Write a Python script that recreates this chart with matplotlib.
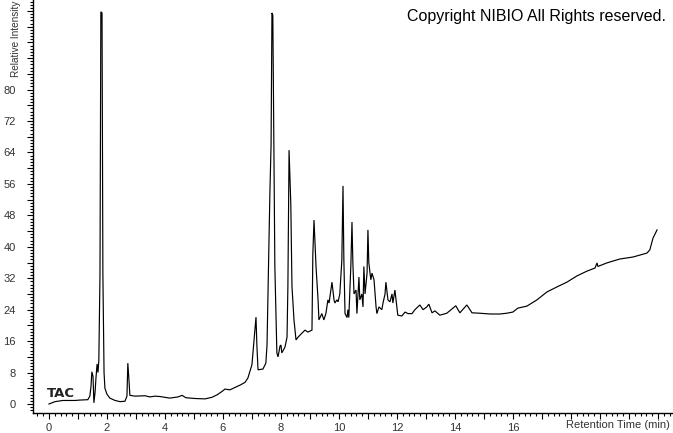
import matplotlib
matplotlib.use("Agg")
import matplotlib.pyplot as plt
from matplotlib.ticker import MultipleLocator, FuncFormatter

# Retention time (min) and relative intensity
time_min = [0.00, 0.21, 0.48, 0.90, 1.07, 1.34, 1.41, 1.45, 1.48, 1.52, 1.55, 1.59, 1.62, 1.66, 1.69, 1.72,
            1.76, 1.79, 1.83, 1.86, 1.90, 1.93, 2.00, 2.10, 2.28, 2.45, 2.62, 2.69, 2.72, 2.76, 2.79, 2.97,
            3.31, 3.48, 3.66, 3.83, 4.17, 4.45, 4.59, 4.72, 5.03, 5.38, 5.62, 5.79, 5.97, 6.07, 6.24, 6.41,
            6.59, 6.76, 6.86, 7.00, 7.07, 7.14, 7.17, 7.21, 7.38, 7.48, 7.52, 7.55, 7.62, 7.66, 7.69, 7.72,
            7.76, 7.79, 7.86, 7.90, 7.97, 8.00, 8.03, 8.14, 8.21, 8.24, 8.28, 8.31, 8.34, 8.38, 8.45, 8.52,
            8.59, 8.72, 8.83, 8.93, 9.07, 9.10, 9.14, 9.21, 9.28, 9.31, 9.41, 9.48, 9.55, 9.62, 9.66, 9.72,
            9.76, 9.83, 9.86, 9.93, 9.97, 10.03, 10.10, 10.14, 10.17, 10.21, 10.28, 10.31, 10.34, 10.41,
            10.45, 10.48, 10.52, 10.59, 10.62, 10.69, 10.72, 10.79, 10.83, 10.86, 10.90, 10.97, 11.00,
            11.03, 11.10, 11.14, 11.21, 11.28, 11.31, 11.38, 11.48, 11.52, 11.59, 11.62, 11.69, 11.76,
            11.83, 11.86, 11.93, 12.00, 12.03, 12.17, 12.28, 12.38, 12.52, 12.62, 12.72, 12.79, 12.90,
            13.03, 13.10, 13.21, 13.31, 13.48, 13.72, 13.93, 14.03, 14.17, 14.41, 14.59, 14.86, 15.21,
            15.55, 15.79, 16.00, 16.17, 16.48, 16.83, 17.17, 17.52, 17.86, 18.21, 18.55, 18.83, 18.90,
            18.93, 19.24, 19.69, 20.14, 20.62, 20.72, 20.83, 20.97]
intensity = [0.0, 0.6, 0.9, 0.9, 1.0, 1.1, 2.0, 4.5, 8.2, 7.0, 0.3, 3.0, 6.5, 10.2, 8.0, 11.0,
             33.0, 99.8, 99.5, 33.0, 8.0, 4.0, 2.5, 1.5, 0.9, 0.6, 0.7, 2.0, 10.4, 6.0, 2.2, 2.0,
             2.1, 1.8, 2.0, 1.9, 1.5, 1.8, 2.2, 1.6, 1.4, 1.3, 1.7, 2.3, 3.2, 3.8, 3.6, 4.2,
             4.8, 5.5, 6.6, 10.0, 16.0, 22.1, 15.0, 8.7, 8.9, 10.4, 15.0, 26.5, 54.0, 66.0, 99.5, 99.0,
             61.0, 35.0, 13.0, 12.0, 14.8, 15.0, 13.0, 14.5, 17.0, 30.0, 64.6, 58.0, 51.0, 30.0, 21.4, 16.3,
             17.0, 18.0, 18.8, 18.3, 18.8, 38.0, 46.8, 35.0, 26.5, 21.4, 23.0, 21.4, 23.0, 26.5, 25.7, 29.0,
             31.0, 26.5, 25.7, 26.5, 26.0, 28.0, 36.6, 55.5, 36.6, 23.0, 22.0, 24.0, 22.0, 35.0,
             46.3, 36.0, 28.0, 29.0, 23.0, 32.3, 26.5, 28.0, 24.7, 35.0, 28.0, 33.3, 44.3,
             36.0, 31.6, 33.3, 31.6, 24.7, 23.0, 24.7, 24.0, 25.7, 28.0, 31.0, 26.5, 26.0,
             28.0, 25.7, 29.0, 24.4, 22.6, 22.4, 23.4, 23.0, 23.0, 24.0, 24.7, 25.2, 24.0,
             24.7, 25.4, 23.2, 23.7, 22.6, 23.1, 24.4, 25.0, 23.2, 25.2, 23.2, 23.1, 22.9,
             22.9, 23.1, 23.4, 24.4, 24.9, 26.5, 28.5, 29.8, 31.0, 32.6, 33.8, 34.6, 35.9,
             35.0, 35.9, 36.9, 37.4, 38.4, 39.2, 42.2, 44.3]

x_tick_labels = [0, 2, 4, 6, 8, 10, 12, 14, 16]
y_tick_labels = [0, 8, 16, 24, 32, 40, 48, 56, 64, 72, 80]

fig = plt.figure(figsize=(6.73, 4.33), dpi=100)
ax = fig.add_axes([33 / 673, 20 / 433, 640 / 673, 413 / 433])
ax.plot(time_min, intensity, color="black", lw=0.85, solid_joinstyle="miter")

ax.set_xlim(-0.55, 21.52)
ax.set_ylim(-2.29, 102.8)

for s in ("top", "right"):
    ax.spines[s].set_visible(False)
for s in ("left", "bottom"):
    ax.spines[s].set_linewidth(1.0)
    ax.spines[s].set_color("black")

ax.xaxis.set_major_locator(MultipleLocator(1))
ax.xaxis.set_minor_locator(MultipleLocator(0.2))
ax.yaxis.set_major_locator(MultipleLocator(4))
ax.yaxis.set_minor_locator(MultipleLocator(0.8))

ax.xaxis.set_major_formatter(FuncFormatter(
    lambda v, p: f"{int(round(v))}" if int(round(v)) in x_tick_labels and abs(v - round(v)) < 1e-6 else ""))
ax.yaxis.set_major_formatter(FuncFormatter(
    lambda v, p: f"{int(round(v))}" if int(round(v)) in y_tick_labels and abs(v - round(v)) < 1e-6 else ""))

ax.tick_params(axis="both", which="major", length=4.5, width=0.8, color="black",
               labelsize=8, labelcolor="#333333", direction="out")
ax.tick_params(axis="both", which="minor", length=2.2, width=0.8, color="black", direction="out")
ax.tick_params(axis="x", which="major", pad=3)
ax.tick_params(axis="y", which="major", pad=8)
for lab in ax.get_xticklabels() + ax.get_yticklabels():
    lab.set_family(["Liberation Sans", "DejaVu Sans"])

fig.text(670 / 673, 1 - 425 / 433, "Retention Time (min)", ha="right", va="center",
         fontsize=8, color="#333333", family=["Liberation Sans", "DejaVu Sans"])
fig.text(16 / 673, 0.998, "Relative Intensity", rotation=90, ha="center", va="top",
         fontsize=7.2, color="#333333", family=["Liberation Sans", "DejaVu Sans"])
fig.text(666 / 673, 1 - 21 / 433, "Copyright NIBIO All Rights reserved.", ha="right", va="baseline",
         fontsize=11.5, color="black", family=["Liberation Sans", "DejaVu Sans"])
ax.text(-0.07, 1.8, "TAC", ha="left", va="baseline", fontsize=9.5, fontweight="bold",
        color="#222222", family=["DejaVu Sans"])

fig.savefig("out.png", dpi=100)
